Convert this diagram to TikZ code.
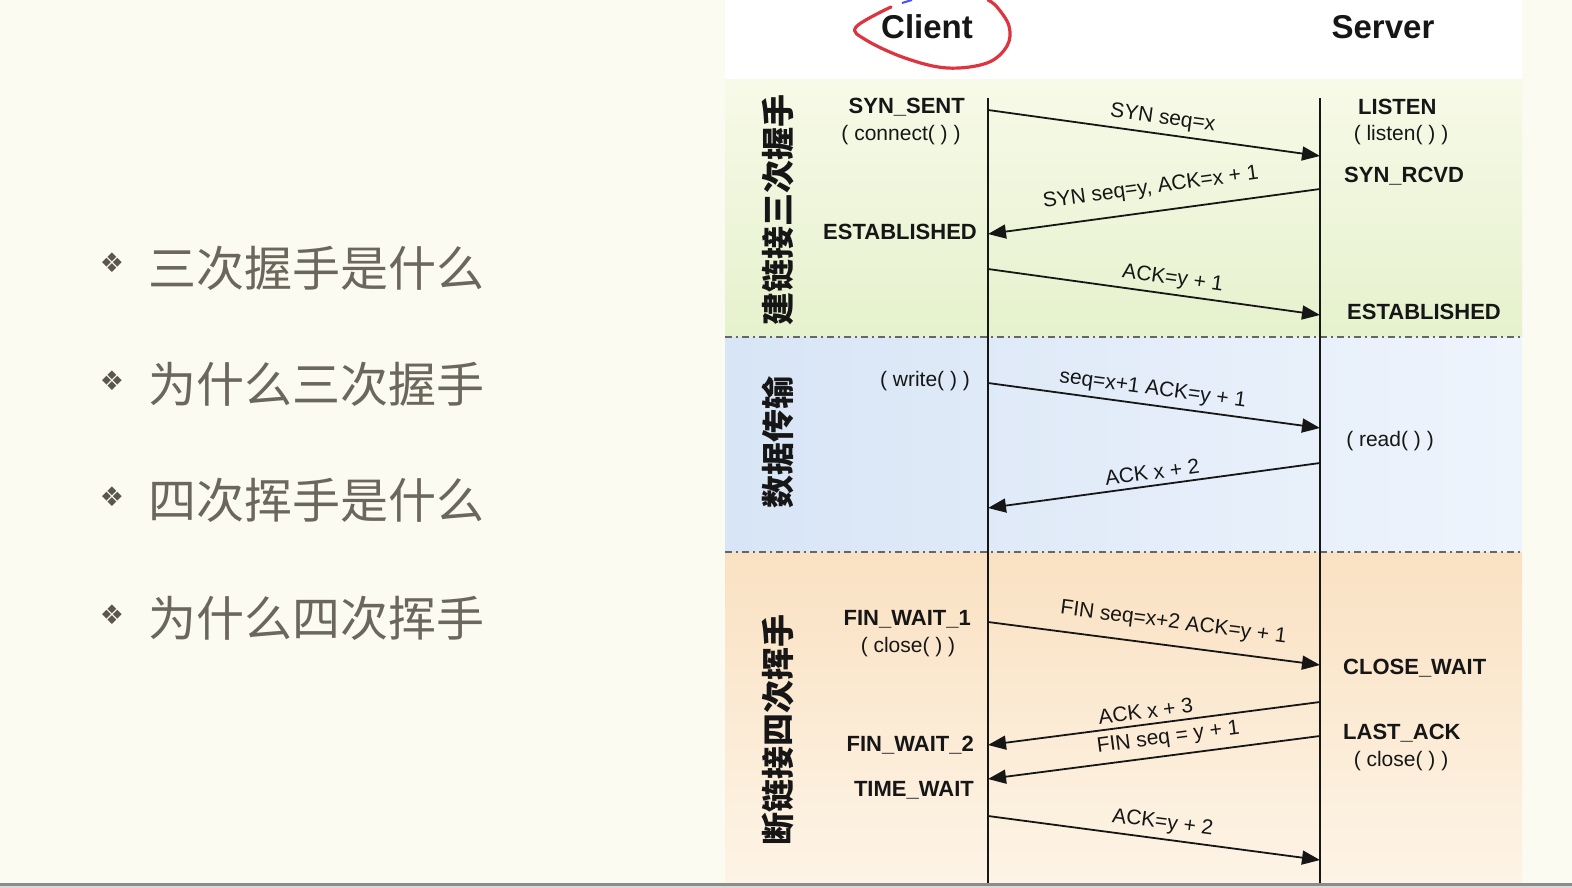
\documentclass[tikz,border=0pt]{standalone}
\usepackage{fontspec}
\setmainfont{Liberation Sans}
\newfontfamily\cjk{Noto Sans CJK SC}
\newfontfamily\dejavu{DejaVu Sans}
\usetikzlibrary{arrows.meta}
\definecolor{cream}{RGB}{251,251,241}
\definecolor{ink}{RGB}{22,22,22}
\definecolor{topicgray}{RGB}{108,103,92}
\definecolor{greentop}{RGB}{247,250,232}
\definecolor{greenbot}{RGB}{230,241,205}
\definecolor{bluel}{RGB}{216,229,246}
\definecolor{bluer}{RGB}{238,244,252}
\definecolor{orangetop}{RGB}{250,225,194}
\definecolor{orangebot}{RGB}{253,244,230}
\definecolor{penred}{RGB}{221,52,64}

\begin{document}
\begin{tikzpicture}[x=1pt, y=-1pt,
    statelbl/.style={font=\fontsize{22}{24}\selectfont\bfseries, text=ink, inner sep=1pt},
    calllbl/.style={font=\fontsize{21}{23}\selectfont, text=ink, inner sep=1pt},
    msglbl/.style={font=\fontsize{21}{23}\selectfont, text=ink, sloped, above=4pt, inner sep=1pt},
    msg/.style={draw=ink, line width=1.8pt, -{Triangle[length=18pt,width=14pt]}},
    lifeline/.style={draw=ink, line width=1.4pt},
    sep/.style={draw=black!60, line width=1.6pt, dash pattern=on 7pt off 4pt on 2pt off 4pt},
    phase/.style={font=\fontsize{33}{35}\selectfont\cjk\bfseries, rotate=90, text=ink},
    peer/.style={font=\fontsize{33}{35}\selectfont\bfseries, text=ink},
    topic/.style={font=\fontsize{48}{50}\selectfont\cjk, text=topicgray, anchor=west},
    bullet/.style={font=\fontsize{27}{29}\selectfont\dejavu, text=topicgray!85!black}]
    \useasboundingbox (0,0) rectangle (1572,888);
    \fill [cream] (0,0) rectangle (1572,888);
    \fill [white] (725,0) rectangle (1522,80);
    \shade [top color=greentop, bottom color=greenbot] (725,80) rectangle (1522,337);
    \shade [left color=bluel, right color=bluer] (725,337) rectangle (1522,552);
    \shade [top color=orangetop, bottom color=orangebot] (725,552) rectangle (1522,883);
    \fill [black!45] (0,883) rectangle (1572,886);
    \fill [black!15] (0,886) rectangle (1572,888);
    \path [sep] (725,337) -- (1522,337);
    \path [sep] (725,552) -- (1522,552);

    \node [bullet] at (112,263) (b1) {❖};
    \node [bullet] at (112,381) (b2) {❖};
    \node [bullet] at (112,497) (b3) {❖};
    \node [bullet] at (112,615) (b4) {❖};
    \node [topic] at (145,268) (t1) {三次握手是什么};
    \node [topic] at (145,384) (t2) {为什么三次握手};
    \node [topic] at (145,500) (t3) {四次挥手是什么};
    \node [topic] at (145,618) (t4) {为什么四次挥手};

    \node [peer] at (927,27) (client) {Client};
    \node [peer] at (1383,27) (server) {Server};
    \draw [penred, line width=3.2pt, line cap=round] plot [smooth, tension=0.6] coordinates {(891,7) (856,27) (866,40) (905,58) (947,68) (987,63) (1007,46) (1009,26) (997,7) (988,0)};
    \draw [blue!70, line width=2pt] (902,3) -- (912,0);

    \node [phase] at (778,210) (p1) {建链接三次握手};
    \node [phase] at (778,442) (p2) {数据传输};
    \node [phase] at (778,730) (p3) {断链接四次挥手};

    \coordinate (ctop) at (988,98);
    \coordinate (cbot) at (988,883);
    \coordinate (stop) at (1320,98);
    \coordinate (sbot) at (1320,883);
    \path [lifeline] (ctop) -- (cbot);
    \path [lifeline] (stop) -- (sbot);

    \node [statelbl, anchor=east] at (966,107) (a) {SYN\_SENT};
    \node [calllbl] at (901,135) (a2) {( connect( ) )};
    \node [statelbl, anchor=east] at (978,232) (b) {ESTABLISHED};
    \node [calllbl] at (925,381) (c) {( write( ) )};
    \node [statelbl, anchor=east] at (972,619) (d) {FIN\_WAIT\_1};
    \node [calllbl] at (908,647) (d2) {( close( ) )};
    \node [statelbl, anchor=east] at (975,745) (e) {FIN\_WAIT\_2};
    \node [statelbl, anchor=east] at (975,790) (f) {TIME\_WAIT};

    \node [statelbl, anchor=west] at (1357,107) (g) {LISTEN};
    \node [calllbl] at (1401,135) (g2) {( listen( ) )};
    \node [statelbl, anchor=west] at (1343,176) (h) {SYN\_RCVD};
    \node [statelbl, anchor=west] at (1346,312) (i) {ESTABLISHED};
    \node [calllbl] at (1390,441) (j) {( read( ) )};
    \node [statelbl, anchor=west] at (1342,668) (k) {CLOSE\_WAIT};
    \node [statelbl, anchor=west] at (1342,733) (l) {LAST\_ACK};
    \node [calllbl] at (1401,761) (l2) {( close( ) )};

    \coordinate (c1) at (988,110);  \coordinate (s1) at (1320,156);
    \coordinate (s2) at (1320,189); \coordinate (c2) at (988,234);
    \coordinate (c3) at (988,269);  \coordinate (s3) at (1320,315);
    \coordinate (c4) at (988,383);  \coordinate (s4) at (1320,428);
    \coordinate (s5) at (1320,463); \coordinate (c5) at (988,508);
    \coordinate (c6) at (988,622);  \coordinate (s6) at (1320,665);
    \coordinate (s7) at (1320,702); \coordinate (c7) at (988,745);
    \coordinate (s8) at (1320,736); \coordinate (c8) at (988,779);
    \coordinate (c9) at (988,816);  \coordinate (s9) at (1320,860);
    \path [msg] (c1) -- (s1) node [msglbl, pos=0.52] {SYN seq=x};
    \path [msg] (s2) -- (c2) node [msglbl, pos=0.5, above=8pt] {SYN seq=y, ACK=x + 1};
    \path [msg] (c3) -- (s3) node [msglbl, pos=0.55] {ACK=y + 1};
    \path [msg] (c4) -- (s4) node [msglbl, pos=0.49] {seq=x+1 ACK=y + 1};
    \path [msg] (s5) -- (c5) node [msglbl, pos=0.5] {ACK x + 2};
    \path [msg] (c6) -- (s6) node [msglbl, pos=0.55, above=7pt] {FIN seq=x+2 ACK=y + 1};
    \path [msg] (s7) -- (c7) node [msglbl, pos=0.52] {ACK x + 3};
    \path [msg] (s8) -- (c8) node [msglbl, pos=0.45, above=2pt] {FIN seq = y + 1};
    \path [msg] (c9) -- (s9) node [msglbl, pos=0.52] {ACK=y + 2};
\end{tikzpicture}
\end{document}
